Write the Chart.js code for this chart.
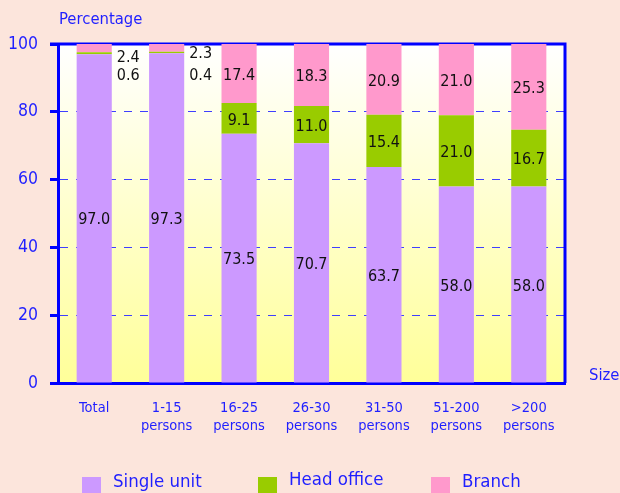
<!DOCTYPE html>
<html>
<head>
<meta charset="utf-8">
<script src="https://cdn.jsdelivr.net/npm/chart.js@4.4.0/dist/chart.umd.min.js"></script>
<style>
  html, body { margin: 0; padding: 0; background: #fce5dc; }
  #wrap { position: relative; width: 620px; height: 493px; }
</style>
</head>
<body>
<div id="wrap"><canvas id="sizeChart"></canvas></div>
<script>
const categories = ['Total', ['1-15', 'persons'], ['16-25', 'persons'], ['26-30', 'persons'],
  ['31-50', 'persons'], ['51-200', 'persons'], ['>200', 'persons']];
const singleUnit = [97.0, 97.3, 73.5, 70.7, 63.7, 58.0, 58.0];
const headOffice = [0.6, 0.4, 9.1, 11.0, 15.4, 21.0, 16.7];
const branch = [2.4, 2.3, 17.4, 18.3, 20.9, 21.0, 25.3];
const yTicks = [0, 20, 40, 60, 80, 100];

const BLUE = '#0000ff';
const TEXT_BLUE = '#1f1fff';
const FONT = '"DejaVu Sans Condensed", "DejaVu Sans", sans-serif';

// white-to-yellow fill behind the bars
const plotBackground = {
  id: 'plotBackground',
  beforeDraw(chart) {
    const { ctx, chartArea: a } = chart;
    const g = ctx.createLinearGradient(0, a.top, 0, a.bottom);
    g.addColorStop(0, '#ffffff');
    g.addColorStop(1, '#ffff99');
    ctx.save();
    ctx.fillStyle = g;
    ctx.fillRect(a.left, a.top, a.right - a.left, a.bottom - a.top);
    ctx.restore();
  }
};

// top and right edges of the box, under the bars
const plotFrame = {
  id: 'plotFrame',
  beforeDatasetsDraw(chart) {
    const { ctx, chartArea: a } = chart;
    ctx.save();
    ctx.strokeStyle = BLUE;
    ctx.lineWidth = 3;
    ctx.beginPath();
    ctx.moveTo(a.left - 8, a.top);
    ctx.lineTo(a.right, a.top);
    ctx.lineTo(a.right, a.bottom);
    ctx.stroke();
    ctx.restore();
  }
};

// value labels: inside the segment, or beside the bar when the segment is too thin
const valueLabels = {
  id: 'valueLabels',
  afterDatasetsDraw(chart) {
    const { ctx, chartArea: a } = chart;
    ctx.save();
    ctx.font = '16px ' + FONT;
    ctx.fillStyle = '#111111';
    ctx.textBaseline = 'middle';
    chart.data.datasets.forEach((ds, di) => {
      chart.getDatasetMeta(di).data.forEach((el, i) => {
        const v = ds.data[i];
        const txt = v.toFixed(1);
        if (v < 5) {
          ctx.textAlign = 'left';
          const y = di === 2 ? a.top + (i === 0 ? 14 : 10) : a.top + 32;
          ctx.fillText(txt, el.x + el.width / 2 + 5, y);
        } else {
          ctx.textAlign = 'center';
          ctx.fillText(txt, el.x, (el.y + el.base) / 2 + 2);
        }
      });
    });
    ctx.restore();
  }
};

// axis captions and legend
const captions = {
  id: 'captions',
  afterDraw(chart) {
    const { ctx, chartArea: a } = chart;
    ctx.save();
    ctx.fillStyle = TEXT_BLUE;
    ctx.textBaseline = 'middle';
    ctx.textAlign = 'left';
    ctx.font = '16.5px ' + FONT;
    ctx.fillText('Percentage', 59, 20);
    ctx.fillText('Size', a.right + 24, a.bottom - 7);

    const legendX = [82, 258, 431];
    ctx.font = '18.5px ' + FONT;
    chart.data.datasets.forEach((ds, di) => {
      const x = legendX[di];
      ctx.fillStyle = ds.backgroundColor;
      ctx.fillRect(x, 477, 19, 19);
      ctx.fillStyle = TEXT_BLUE;
      ctx.fillText(ds.label, x + 31, di === 1 ? 480 : 482);
    });
    ctx.restore();
  }
};

new Chart(document.getElementById('sizeChart'), {
  type: 'bar',
  data: {
    labels: categories,
    datasets: [
      { label: 'Single unit', data: singleUnit, backgroundColor: '#cc99ff' },
      { label: 'Head office', data: headOffice, backgroundColor: '#99cc00' },
      { label: 'Branch', data: branch, backgroundColor: '#ff99cc' }
    ]
  },
  options: {
    responsive: true,
    maintainAspectRatio: false,
    animation: false,
    layout: { padding: { top: 44, right: 55, bottom: 50, left: 0 } },
    datasets: { bar: { barPercentage: 0.485, categoryPercentage: 1 } },
    plugins: { legend: { display: false }, tooltip: { enabled: false } },
    scales: {
      x: {
        stacked: true,
        grid: { drawOnChartArea: false, drawTicks: false },
        border: { color: BLUE, width: 3 },
        ticks: {
          color: TEXT_BLUE,
          padding: 17,
          maxRotation: 0,
          font: { family: FONT, size: 14.5, lineHeight: 1.2 }
        },
        afterFit(scale) { scale.height = 60; }
      },
      y: {
        stacked: true,
        min: 0,
        max: 100,
        afterBuildTicks(scale) { scale.ticks = yTicks.map(v => ({ value: v })); },
        grid: {
          color: '#3f3fff',
          lineWidth: 1,
          tickColor: BLUE,
          tickWidth: 3,
          tickLength: 8
        },
        border: { color: BLUE, width: 3, dash: [8, 8] },
        ticks: {
          color: TEXT_BLUE,
          padding: 12,
          font: { family: FONT, size: 17.5 }
        },
        afterFit(scale) { scale.width = 58; }
      }
    }
  },
  plugins: [plotBackground, plotFrame, valueLabels, captions]
});
</script>
</body>
</html>
